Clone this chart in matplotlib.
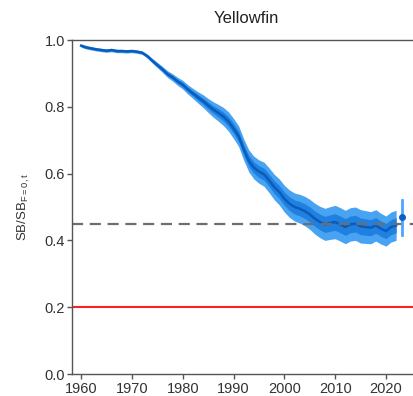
import matplotlib

matplotlib.use("Agg")
import matplotlib.pyplot as plt
import numpy as np

plt.rcParams["font.family"] = ["Liberation Sans", "DejaVu Sans"]

years = list(range(1960, 2023))
median = [
    0.983, 0.978, 0.975, 0.972, 0.970, 0.968, 0.970, 0.967, 0.967, 0.966,
    0.967, 0.965, 0.962, 0.952, 0.938, 0.925, 0.912, 0.898, 0.888, 0.876,
    0.866, 0.852, 0.840, 0.828, 0.817, 0.804, 0.792, 0.782, 0.771, 0.756,
    0.735, 0.712, 0.672, 0.638, 0.618, 0.606, 0.598, 0.580, 0.560, 0.545,
    0.525, 0.510, 0.500, 0.495, 0.488, 0.478, 0.465, 0.455, 0.448, 0.452,
    0.455, 0.448, 0.440, 0.448, 0.450, 0.442, 0.440, 0.438, 0.445, 0.435,
    0.428, 0.440, 0.445,
]
outer_half = [
    0.005, 0.005, 0.005, 0.005, 0.005, 0.005, 0.005, 0.005, 0.005, 0.005,
    0.005, 0.005, 0.005, 0.006, 0.007, 0.008, 0.009, 0.010, 0.011, 0.012,
    0.013, 0.014, 0.015, 0.017, 0.019, 0.021, 0.023, 0.025, 0.027, 0.029,
    0.030, 0.031, 0.032, 0.033, 0.034, 0.035, 0.036, 0.037, 0.038, 0.039,
    0.040, 0.041, 0.042, 0.043, 0.044, 0.045, 0.046, 0.047, 0.048, 0.049,
    0.050, 0.050, 0.050, 0.050, 0.050, 0.050, 0.049, 0.048, 0.047, 0.046,
    0.045, 0.045, 0.045,
]
inner_half = [w * 0.5 for w in outer_half]

proj_year = 2023.2
proj_value = 0.471
proj_low = 0.416
proj_high = 0.521

target_ref = 0.45
limit_ref = 0.2

x = np.array(years)
m = np.array(median)
wo = np.array(outer_half)
wi = np.array(inner_half)

fig = plt.figure(figsize=(4.13, 3.96), dpi=100)
ax = fig.add_axes([72 / 413, 22 / 396, 348 / 413, 334 / 396])

ax.fill_between(x, m - wo, m + wo, color="#48a4f2", lw=0)
ax.fill_between(x, m - wi, m + wi, color="#1f80e0", lw=0)
ax.plot(x, m, color="#0a5cbc", lw=1.8)

ax.axhline(target_ref, color="#6e6e6e", lw=1.6, dashes=(5, 3))
ax.axhline(limit_ref, color="#ff2020", lw=1.5)

ax.plot([proj_year, proj_year], [proj_low, proj_high], color="#4da6ff", lw=2)
ax.plot([proj_year], [proj_value], "o", color="#1060c0", ms=4)

ax.set_xlim(1958.2, 2026.7)
ax.set_ylim(0, 1)
ax.set_xticks(range(1960, 2021, 10))
ax.set_yticks([0.0, 0.2, 0.4, 0.6, 0.8, 1.0])
ax.set_yticklabels(["0.0", "0.2", "0.4", "0.6", "0.8", "1.0"])
ax.tick_params(direction="out", length=3.5, width=1, color="#555555",
               labelsize=10.5, labelcolor="#333333", pad=1.5)
ax.tick_params(axis="x", pad=2.5)

for side in ("left", "bottom", "top"):
    ax.spines[side].set_color("#555555")
    ax.spines[side].set_linewidth(1)
ax.spines["right"].set_visible(False)

ax.set_title("Yellowfin", fontsize=12, color="#222222", pad=12)
ax.set_ylabel(r"SB/SB$_{\mathregular{F=0,t}}$", fontsize=9.5, color="#333333", labelpad=9)

fig.savefig("out.png", dpi=100)
